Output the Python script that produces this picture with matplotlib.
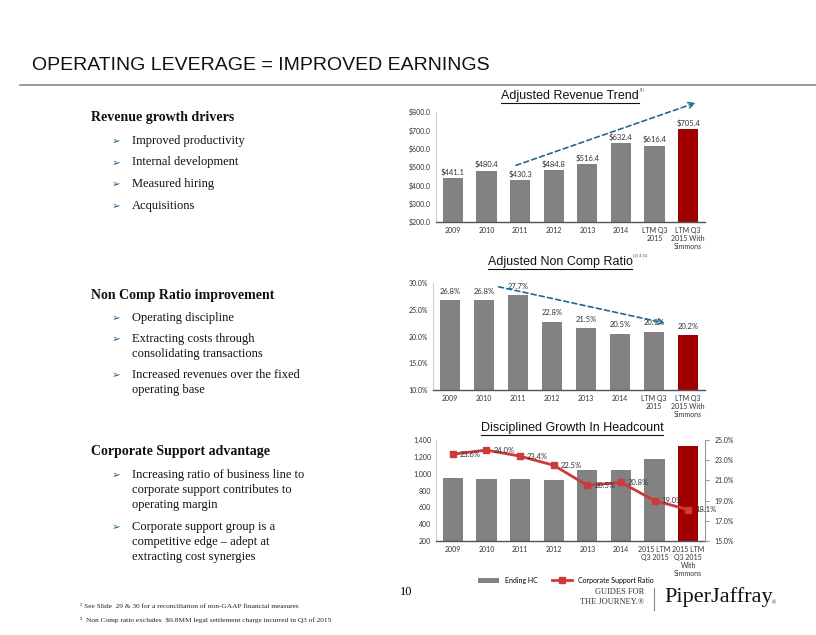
import numpy as np
import matplotlib
matplotlib.use("Agg")
import matplotlib.pyplot as plt
from matplotlib.lines import Line2D

# ---- data ----
rev_labels = ['2009', '2010', '2011', '2012', '2013', '2014',
              'LTM Q3\n2015', 'LTM Q3\n2015 With\nSimmons']
rev_values = [441.1, 480.4, 430.3, 484.8, 516.4, 632.4, 616.4, 705.4]

nc_labels = rev_labels
nc_values = [26.8, 26.8, 27.7, 22.8, 21.5, 20.5, 20.9, 20.2]

hc_labels = ['2009', '2010', '2011', '2012', '2013', '2014',
             '2015 LTM\nQ3 2015', '2015 LTM\nQ3 2015\nWith\nSimmons']
hc_values = [947, 935, 931, 923, 1042, 1042, 1177, 1328]
csr_values = [23.6, 24.0, 23.4, 22.5, 20.5, 20.8, 19.0, 18.1]

W, H = 816, 635
GRAY = '#828282'
RED = '#A00000'
LINE_RED = '#CC3A3A'
ARROW = '#1F6A96'
SANS = ['Lato', 'DejaVu Sans']
SERIF = ['Liberation Serif', 'DejaVu Serif']

fig = plt.figure(figsize=(W / 100, H / 100), dpi=100)


def rect(l, t, r, b):
    return [l / W, 1 - b / H, (r - l) / W, (b - t) / H]


def fx(x):
    return x / W


def fy(y):
    return 1 - y / H


def style_axes(ax):
    for s in ['top', 'right']:
        ax.spines[s].set_visible(False)
    ax.spines['left'].set_color('#d0d0d0')
    ax.spines['bottom'].set_color('#555555')
    ax.spines['bottom'].set_linewidth(1.0)
    ax.tick_params(axis='both', length=0, labelsize=5, colors='#333333')
    ax.set_xlim(-0.5, 7.5)
    for lab in ax.get_xticklabels() + ax.get_yticklabels():
        lab.set_family(SANS)


colors = [GRAY] * 7 + [RED]
x = np.arange(len(rev_labels))

# ---- title ----
fig.text(fx(32), fy(66), 'OPERATING LEVERAGE = IMPROVED EARNINGS',
         family=['Liberation Sans Narrow', 'Liberation Sans'], fontsize=14,
         va='center', ha='left', color='#111111')
fig.add_artist(Line2D([fx(20), 1.0], [fy(85), fy(85)], color='#8a8a8a', lw=1.2))

# ---- revenue chart ----
ax1 = fig.add_axes(rect(436, 112, 705, 222))
ax1.bar(x, rev_values, width=0.6, color=colors)
ax1.set_ylim(200, 800)
ax1.set_yticks(np.arange(200, 801, 100))
ax1.set_yticklabels(['${:.1f}'.format(v) for v in np.arange(200, 801, 100)])
ax1.set_xticks(x)
ax1.set_xticklabels(rev_labels, linespacing=1.15)
style_axes(ax1)
for xi, v in zip(x, rev_values):
    ax1.text(xi, v + 12, '${:.1f}'.format(v), ha='center', va='bottom',
             fontsize=5.5, family=SANS, color='#333333')
ax1.annotate('', xy=(7.3, 855), xytext=(1.8, 504),
             arrowprops=dict(arrowstyle='->', linestyle=(0, (3, 2)), color=ARROW, lw=1.2),
             annotation_clip=False)

# ---- non comp chart ----
ax2 = fig.add_axes(rect(433, 283, 705, 390))
ax2.bar(x, nc_values, width=0.6, color=colors)
ax2.set_ylim(10, 30)
ax2.set_yticks(np.arange(10, 31, 5))
ax2.set_yticklabels(['{:.1f}%'.format(v) for v in np.arange(10, 31, 5)])
ax2.set_xticks(x)
ax2.set_xticklabels(nc_labels, linespacing=1.15)
style_axes(ax2)
for xi, v in zip(x, nc_values):
    ax2.text(xi, v + 1.0, '{:.1f}%'.format(v), ha='center', va='bottom',
             fontsize=5.5, family=SANS, color='#333333')
ax2.annotate('', xy=(6.4, 22.4), xytext=(1.35, 29.4),
             arrowprops=dict(arrowstyle='->', linestyle=(0, (3, 2)), color=ARROW, lw=1.2),
             annotation_clip=False)

# ---- headcount chart ----
ax3 = fig.add_axes(rect(436, 440, 705, 541))
ax3.bar(x, [v - 200 for v in hc_values], bottom=200, width=0.6, color=colors,
        label='Ending HC')
ax3.set_ylim(200, 1400)
hc_ticks = [200, 400, 600, 800, 1000, 1200, 1400]
ax3.set_yticks(hc_ticks)
ax3.set_yticklabels(['{:,}'.format(int(v)) for v in hc_ticks])
ax3.set_xticks(x)
ax3.set_xticklabels(hc_labels, linespacing=1.15)
style_axes(ax3)
ax3b = ax3.twinx()
ax3b.plot(x, csr_values, color=LINE_RED, lw=2, marker='s', ms=4,
          label='Corporate Support Ratio')
ax3b.set_ylim(15, 25)
ax3b.set_yticks(np.arange(15, 26, 2))
ax3b.set_yticklabels(['{:.1f}%'.format(v) for v in np.arange(15, 26, 2)])
for s in ['top', 'left', 'bottom']:
    ax3b.spines[s].set_visible(False)
ax3b.spines['right'].set_color('#999999')
ax3b.tick_params(axis='y', length=3, labelsize=5, colors='#333333', pad=4)
ax3b.tick_params(axis='y', color='#999999')
for lab in ax3b.get_yticklabels():
    lab.set_family(SANS)
for xi, v in zip(x, csr_values):
    ax3b.annotate('{:.1f}%'.format(v), (xi, v), xytext=(5, 0),
                  textcoords='offset points', ha='left', va='center',
                  fontsize=5.5, family=SANS, color='#333333')
h1, l1 = ax3.get_legend_handles_labels()
h2, l2 = ax3b.get_legend_handles_labels()
fig.legend(h1 + h2, l1 + l2, loc='center', bbox_to_anchor=(fx(566), fy(580)),
           ncol=2, frameon=False, prop={'family': SANS, 'size': 5},
           handlelength=3, columnspacing=2)

# ---- chart titles (underlined) ----
titles = [('Adjusted Revenue Trend', 570, 96, '(1)'),
          ('Adjusted Non Comp Ratio', 560, 262, '(2) 4 (1)'),
          ('Disciplined Growth In Headcount', 572, 428, None)]
fig.canvas.draw()
renderer = fig.canvas.get_renderer()
for txt, cx, cy, sup in titles:
    t = fig.text(fx(cx), fy(cy), txt, ha='center', va='center', fontsize=9,
                 family=['Liberation Sans'], color='#111111')
    bb = t.get_window_extent(renderer)
    ly = bb.y0 - 1
    fig.add_artist(Line2D([bb.x0 / W, bb.x1 / W], [ly / H, ly / H],
                          color='#111111', lw=0.8))
    if sup:
        fig.text(bb.x1 / W + 0.001, bb.y1 / H, sup, fontsize=3, ha='left',
                 va='center', family=['Liberation Sans'], color='#444444')

# ---- left text ----
sections = [
    ('Revenue growth drivers', 118,
     [['Improved productivity'], ['Internal development'], ['Measured hiring'],
      ['Acquisitions']], 21.5),
    ('Non Comp Ratio improvement', 295,
     [['Operating discipline'],
      ['Extracting costs through', 'consolidating transactions'],
      ['Increased revenues over the fixed', 'operating base']], 21),
    ('Corporate Support advantage', 452,
     [['Increasing ratio of business line to', 'corporate support contributes to',
       'operating margin'],
      ['Corporate support group is a', 'competitive edge \u2013 adept at',
       'extracting cost synergies']], 22),
]
for head, hy, items, gap in sections:
    fig.text(fx(91), fy(hy), head, fontsize=10, fontweight='bold', family=SERIF,
             va='center', ha='left', color='#111111')
    y = hy + 23
    for lines in items:
        fig.text(fx(112), fy(y), '\u27a2', fontsize=7.5, family=['DejaVu Sans'],
                 color='#1F5F8C', va='center', ha='left')
        for j, ln in enumerate(lines):
            fig.text(fx(132), fy(y + j * 15), ln, fontsize=9, family=SERIF,
                     va='center', ha='left', color='#111111')
        y += (len(lines) - 1) * 15 + gap

# ---- footer ----
fig.text(fx(400), fy(592), '10', fontsize=9, family=SERIF, va='center', ha='left')
fig.text(fx(80), fy(607), '\u00b9 See Slide  29 & 30 for a reconciliation of non-GAAP financial measures',
         fontsize=5.3, family=SERIF, va='center', ha='left', color='#222222')
fig.text(fx(80), fy(620), '\u00b2  Non Comp ratio excludes  $9.8MM legal settlement charge incurred in Q3 of 2015',
         fontsize=5.3, family=SERIF, va='center', ha='left', color='#222222')
fig.text(fx(644), fy(592), 'GUIDES FOR', fontsize=6, family=SERIF, va='center',
         ha='right', color='#333333')
fig.text(fx(644), fy(602), 'THE JOURNEY.\u00ae', fontsize=6, family=SERIF, va='center',
         ha='right', color='#333333')
fig.add_artist(Line2D([fx(654), fx(654)], [fy(588), fy(610)], color='#888888', lw=0.8))
fig.text(fx(664), fy(597), 'PiperJaffray', fontsize=16, family=SERIF,
         va='center', ha='left', color='#111111')
fig.text(fx(772), fy(603), '\u00ae', fontsize=4, family=SERIF, va='center',
         ha='left', color='#333333')

fig.savefig('out.png', dpi=100)
